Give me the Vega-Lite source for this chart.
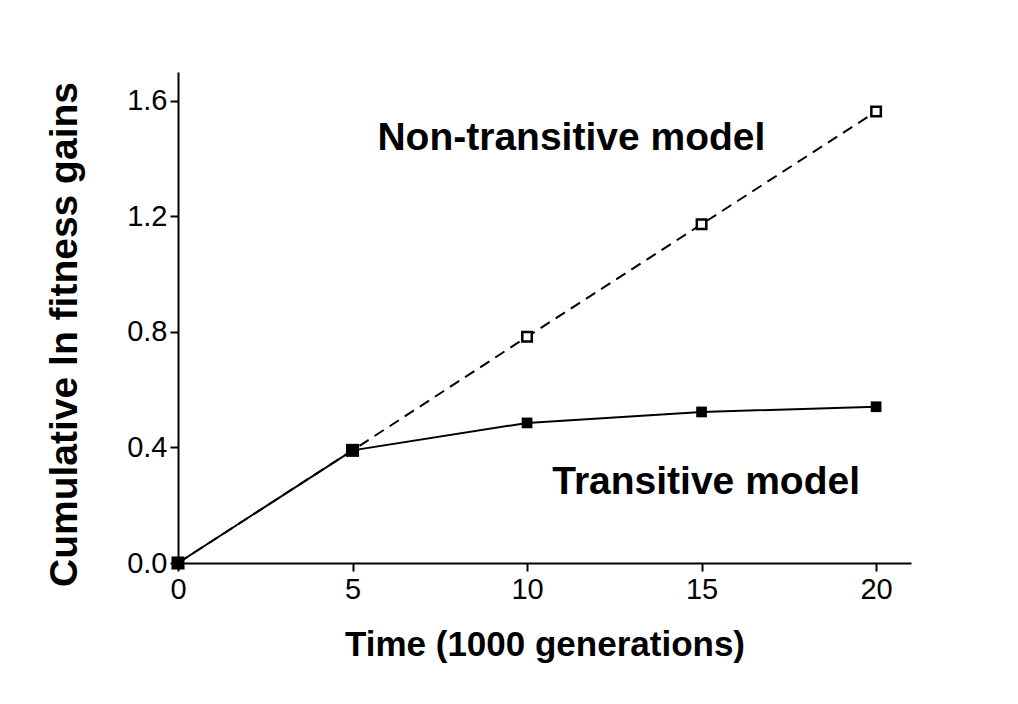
{
  "$schema": "https://vega.github.io/schema/vega-lite/v6.json",
  "autosize": "none",
  "width": 733,
  "height": 491,
  "padding": {"left": 178, "top": 72, "right": 107, "bottom": 141},
  "background": "white",
  "config": {
    "view": {"stroke": null},
    "font": "Liberation Sans",
    "axis": {
      "domainColor": "black",
      "domainWidth": 2,
      "tickColor": "black",
      "tickWidth": 2,
      "tickSize": 8,
      "grid": false,
      "labelColor": "black",
      "labelFont": "Liberation Sans",
      "labelFontSize": 29,
      "labelFlush": false,
      "titleColor": "black",
      "titleFont": "Liberation Sans",
      "titleFontWeight": "bold",
      "titleBaseline": "alphabetic"
    }
  },
  "data": {
    "values": [
      {"time": 0, "gain": 0, "model": "Non-transitive"},
      {"time": 5, "gain": 0.39, "model": "Non-transitive"},
      {"time": 10, "gain": 0.783, "model": "Non-transitive"},
      {"time": 15, "gain": 1.173, "model": "Non-transitive"},
      {"time": 20, "gain": 1.563, "model": "Non-transitive"},
      {"time": 0, "gain": 0, "model": "Transitive"},
      {"time": 5, "gain": 0.39, "model": "Transitive"},
      {"time": 10, "gain": 0.485, "model": "Transitive"},
      {"time": 15, "gain": 0.523, "model": "Transitive"},
      {"time": 20, "gain": 0.541, "model": "Transitive"}
    ]
  },
  "encoding": {
    "x": {
      "field": "time",
      "type": "quantitative",
      "scale": {"domain": [0, 21], "nice": false},
      "axis": {
        "values": [0, 5, 10, 15, 20],
        "title": "Time (1000 generations)",
        "titleFontSize": 35,
        "titleY": 92,
        "labelPadding": 4
      }
    },
    "y": {
      "field": "gain",
      "type": "quantitative",
      "scale": {"domain": [0, 1.7], "nice": false},
      "axis": {
        "values": [0, 0.4, 0.8, 1.2, 1.6],
        "format": ".1f",
        "title": "Cumulative ln fitness gains",
        "titleFontSize": 39,
        "titleX": -102,
        "titleY": 262,
        "labelPadding": 3
      }
    }
  },
  "layer": [
    {
      "transform": [{"filter": "datum.model == 'Non-transitive'"}],
      "mark": {"type": "line", "color": "black", "strokeWidth": 2, "strokeDash": [11, 7]},
      "encoding": {}
    },
    {
      "transform": [{"filter": "datum.model == 'Transitive'"}],
      "mark": {"type": "line", "color": "black", "strokeWidth": 2},
      "encoding": {}
    },
    {
      "transform": [{"filter": "datum.model == 'Non-transitive' && datum.time > 5"}],
      "mark": {"type": "square", "filled": false, "stroke": "black", "strokeWidth": 2.5, "fill": "white", "size": 90, "opacity": 1},
      "encoding": {}
    },
    {
      "transform": [{"filter": "datum.model == 'Transitive' && datum.time > 5"}],
      "mark": {"type": "square", "filled": true, "color": "black", "size": 115, "opacity": 1},
      "encoding": {}
    },
    {
      "transform": [{"filter": "datum.model == 'Transitive' && datum.time <= 5"}],
      "mark": {"type": "square", "filled": true, "color": "black", "size": 170, "opacity": 1},
      "encoding": {}
    },
    {
      "data": {
        "values": [
          {"time": 11.27, "gain": 1.43, "label": "Non-transitive model"},
          {"time": 15.13, "gain": 0.239, "label": "Transitive model"}
        ]
      },
      "mark": {"type": "text", "fontSize": 39, "fontWeight": "bold", "color": "black", "baseline": "alphabetic", "align": "center", "font": "Liberation Sans"},
      "encoding": {"text": {"field": "label"}}
    }
  ]
}
